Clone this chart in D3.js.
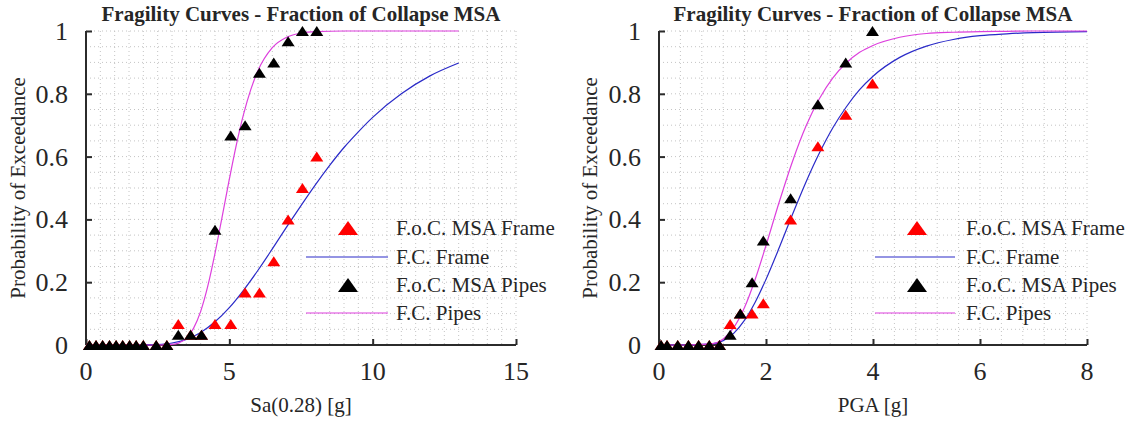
<!DOCTYPE html>
<html>
<head>
<meta charset="utf-8">
<script src="https://cdn.jsdelivr.net/npm/d3@7"></script>
<style>
  html, body { margin: 0; padding: 0; background: #fff; }
  svg { display: block; }
  text { font-family: "Liberation Serif", "Times New Roman", serif; fill: #262626; }
</style>
</head>
<body>
<svg id="chart" width="1141" height="421"></svg>
<script>
// ---- MSA results: fraction of collapse per intensity level (30 records) ----
const saLevels   = [0.12, 0.35, 0.58, 0.82, 1.05, 1.28, 1.52, 1.75, 2.0, 2.45, 2.82,
                    3.22, 3.65, 4.03, 4.5, 5.05, 5.55, 6.05, 6.55, 7.05, 7.55, 8.05];
const saFrameFoc = [0, 0, 0, 0, 0, 0, 0, 0, 0, 0, 0,
                    0.067, 0.033, 0.033, 0.067, 0.067, 0.167, 0.167, 0.267, 0.4, 0.5, 0.6];
const saPipesFoc = [0, 0, 0, 0, 0, 0, 0, 0, 0, 0, 0,
                    0.033, 0.033, 0.033, 0.367, 0.667, 0.7, 0.867, 0.9, 0.967, 1, 1];

const pgaLevels   = [0.04, 0.15, 0.35, 0.55, 0.74, 0.94, 1.13, 1.33, 1.52, 1.74, 1.95, 2.46, 2.97, 3.49, 3.99];
const pgaFrameFoc = [0, 0, 0, 0, 0, 0, 0, 0.067, 0.1, 0.1, 0.133, 0.4, 0.633, 0.733, 0.833];
const pgaPipesFoc = [0, 0, 0, 0, 0, 0, 0, 0.033, 0.1, 0.2, 0.333, 0.467, 0.767, 0.9, 1.0];

// ---- fitted fragility curves (IM, probability) ----
const saCurveX    = [0, 1, 2, 2.5, 3, 3.5, 4, 4.5, 5, 5.5, 6, 6.5, 7, 7.5, 8, 8.5, 9, 9.5, 10, 11, 12, 13];
const saFrameFc   = [0, 0, 0.0001, 0.0016, 0.0064, 0.018, 0.040, 0.074, 0.119, 0.175, 0.238, 0.306,
                     0.376, 0.444, 0.510, 0.572, 0.629, 0.679, 0.725, 0.800, 0.857, 0.898];
const saPipesX    = [0, 1, 2, 2.5, 3, 3.25, 3.5, 3.75, 4, 4.25, 4.5, 4.75, 5, 5.25, 5.5, 5.75, 6,
                     6.5, 7, 7.5, 8, 9, 13];
const saPipesFc   = [0, 0, 0, 0, 0.0017, 0.0069, 0.021, 0.053, 0.107, 0.188, 0.292, 0.409, 0.528,
                     0.640, 0.736, 0.814, 0.874, 0.947, 0.980, 0.993, 0.998, 1, 1];

const pgaCurveX   = [0, 0.5, 1, 1.2, 1.4, 1.6, 1.8, 2, 2.25, 2.5, 2.75, 3, 3.25, 3.5, 3.75, 4,
                     4.5, 5, 5.5, 6, 6.5, 7, 8];
const pgaFrameFc  = [0, 0, 0.0036, 0.014, 0.038, 0.079, 0.137, 0.209, 0.311, 0.418, 0.520, 0.612,
                     0.692, 0.758, 0.813, 0.856, 0.916, 0.952, 0.973, 0.985, 0.991, 0.995, 0.998];
const pgaPipesFc  = [0, 0, 0.0041, 0.019, 0.056, 0.120, 0.210, 0.317, 0.457, 0.587, 0.698, 0.785,
                     0.851, 0.898, 0.932, 0.954, 0.980, 0.992, 0.996, 0.998, 0.999, 1, 1];

const titleText   = "Fragility Curves - Fraction of Collapse MSA";
const yLabelText  = "Probability of Exceedance";
const legendNames = ["F.o.C. MSA Frame", "F.C. Frame", "F.o.C. MSA Pipes", "F.C. Pipes"];
const yTicks      = [0, 0.2, 0.4, 0.6, 0.8, 1];

const COL = { frame: "#ff0000", frameLine: "#2a2ac8", pipes: "#000000", pipesLine: "#dd3fdd",
              axis: "#2b2b2b", grid: "#c4c4c4" };

const svg = d3.select("#chart");

function label(g, x, y, str, size, anchor, weight) {
  return g.append("text")
    .attr("x", x).attr("y", y)
    .attr("text-anchor", anchor)
    .attr("font-size", size)
    .attr("font-weight", weight || "normal")
    .text(str);
}

function triangle(w, h) {
  return `M0,${-h / 2}L${w / 2},${h / 2}L${-w / 2},${h / 2}Z`;
}

function panel(cfg) {
  const g = svg.append("g");
  const x = d3.scaleLinear().domain(cfg.xDomain).range(cfg.xRange);
  const y = d3.scaleLinear().domain([0, 1]).range([345, 31]);

  // minor + major dotted grid
  const gx = d3.range(cfg.xDomain[0], cfg.xDomain[1] + 1e-9, cfg.minorX);
  const gy = d3.range(0, 1 + 1e-9, 0.05);
  g.append("g").selectAll("line").data(gx.slice(1)).join("line")
    .attr("x1", d => x(d)).attr("x2", d => x(d))
    .attr("y1", y(1)).attr("y2", y(0))
    .attr("stroke", COL.grid).attr("stroke-width", 1)
    .attr("stroke-dasharray", "1,3");
  g.append("g").selectAll("line").data(gy.slice(1)).join("line")
    .attr("x1", x(cfg.xDomain[0])).attr("x2", x(cfg.xDomain[1]))
    .attr("y1", d => y(d)).attr("y2", d => y(d))
    .attr("stroke", COL.grid).attr("stroke-width", 1)
    .attr("stroke-dasharray", "1,3");

  // axes (left + bottom, ticks inward)
  const xAxis = d3.axisTop(x).tickValues(cfg.xTicks).tickSize(6).tickFormat("");
  const yAxis = d3.axisRight(y).tickValues(yTicks).tickSize(6).tickFormat("");
  const ax = g.append("g").attr("transform", `translate(0,${y(0)})`).call(xAxis);
  const ay = g.append("g").attr("transform", `translate(${x(0)},0)`).call(yAxis);
  [ax, ay].forEach(a => {
    a.select(".domain").attr("stroke", COL.axis).attr("stroke-width", 2);
    a.selectAll(".tick line").attr("stroke", COL.axis).attr("stroke-width", 2);
  });
  ax.select(".domain").attr("d", `M${x(cfg.xDomain[0])},0H${x(cfg.xDomain[1])}`);
  ay.select(".domain").attr("d", `M0,${y(0)}V${y(1)}`);

  // tick labels
  cfg.xTicks.forEach(t => label(g, x(t), 380, d3.format("~g")(t), 26, "middle"));
  yTicks.forEach(t => label(g, x(0) - 18, y(t) + 9, d3.format("~g")(t), 26, "end"));

  // titles
  const cx = (cfg.xRange[0] + cfg.xRange[1]) / 2;
  label(g, cx, 21, titleText, 21, "middle", "bold");
  label(g, cx, 412, cfg.xLabel, 21, "middle");
  g.append("text")
    .attr("transform", `translate(${cfg.yLabelX},188) rotate(-90)`)
    .attr("text-anchor", "middle").attr("font-size", 21)
    .text(yLabelText);

  // fitted curves
  const line = d3.line().x(d => x(d[0])).y(d => y(d[1])).curve(d3.curveMonotoneX);
  g.append("path").datum(d3.zip(cfg.curveX, cfg.frameFc))
    .attr("d", line).attr("fill", "none").attr("stroke", COL.frameLine).attr("stroke-width", 1.2);
  g.append("path").datum(d3.zip(cfg.pipesX, cfg.pipesFc))
    .attr("d", line).attr("fill", "none").attr("stroke", COL.pipesLine).attr("stroke-width", 1.2);

  // MSA fractions
  g.append("g").selectAll("path").data(d3.zip(cfg.levels, cfg.frameFoc)).join("path")
    .attr("d", triangle(13, 10))
    .attr("transform", d => `translate(${x(d[0])},${y(d[1])})`)
    .attr("fill", COL.frame);
  g.append("g").selectAll("path").data(d3.zip(cfg.levels, cfg.pipesFoc)).join("path")
    .attr("d", triangle(13, 10))
    .attr("transform", d => `translate(${x(d[0])},${y(d[1])})`)
    .attr("fill", COL.pipes);

  // legend
  const L = cfg.legend;
  const rows = [228, 257, 285, 313];
  const lg = g.append("g");
  lg.append("path").attr("d", triangle(20, 14))
    .attr("transform", `translate(${L.marker},${rows[0]})`).attr("fill", COL.frame);
  lg.append("line").attr("x1", L.lineStart).attr("x2", L.lineEnd)
    .attr("y1", rows[1]).attr("y2", rows[1]).attr("stroke", COL.frameLine).attr("stroke-width", 1.2);
  lg.append("path").attr("d", triangle(20, 14))
    .attr("transform", `translate(${L.marker},${rows[2]})`).attr("fill", COL.pipes);
  lg.append("line").attr("x1", L.lineStart).attr("x2", L.lineEnd)
    .attr("y1", rows[3]).attr("y2", rows[3]).attr("stroke", COL.pipesLine).attr("stroke-width", 1.2);
  legendNames.forEach((n, i) => label(lg, L.text, rows[i] + 7, n, 21, "start"));
}

panel({
  xDomain: [0, 15], xRange: [86, 516], xTicks: [0, 5, 10, 15], minorX: 0.5,
  xLabel: "Sa(0.28) [g]", yLabelX: 25,
  levels: saLevels, frameFoc: saFrameFoc, pipesFoc: saPipesFoc,
  curveX: saCurveX, frameFc: saFrameFc, pipesX: saPipesX, pipesFc: saPipesFc,
  legend: { marker: 348, lineStart: 306, lineEnd: 388, text: 396 }
});

panel({
  xDomain: [0, 8], xRange: [659, 1087], xTicks: [0, 2, 4, 6, 8], minorX: 0.4,
  xLabel: "PGA [g]", yLabelX: 597,
  levels: pgaLevels, frameFoc: pgaFrameFoc, pipesFoc: pgaPipesFoc,
  curveX: pgaCurveX, frameFc: pgaFrameFc, pipesX: pgaCurveX, pipesFc: pgaPipesFc,
  legend: { marker: 917, lineStart: 875, lineEnd: 955, text: 966 }
});
</script>
</body>
</html>
